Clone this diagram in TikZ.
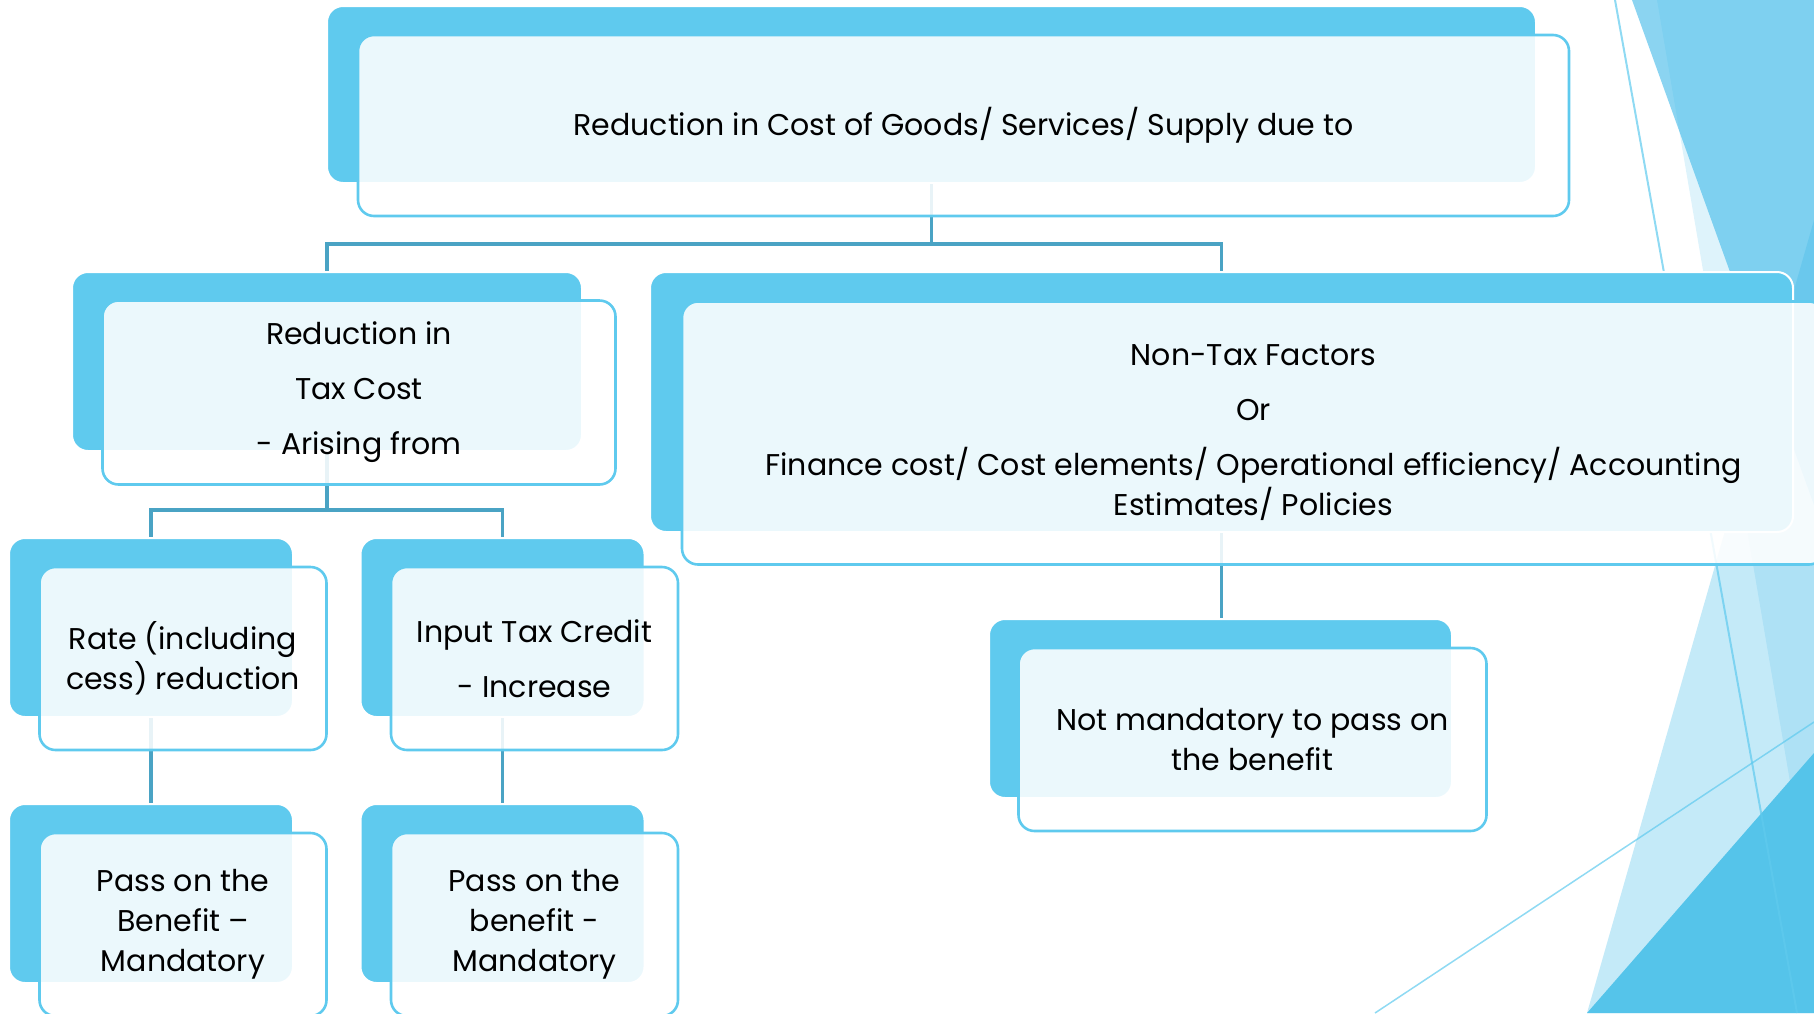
\documentclass[tikz,border=0pt]{standalone}
\usepackage{fontspec}
\setmainfont{Poppins}
\usepackage{tikz}
\usetikzlibrary{positioning, calc}

\definecolor{accent}{HTML}{5FCAEE}
\definecolor{facet}{HTML}{3DB8E8}
\definecolor{darkfacet}{HTML}{55C4EA}
\definecolor{linkblue}{HTML}{4AA3C4}

\begin{document}
\begin{tikzpicture}[
    x=0.5pt, y=-0.5pt,
    back/.style={rectangle, rounded corners=8pt, fill=accent, draw=white, line width=1pt, inner sep=0pt, minimum height=89.5pt},
    front/.style={rectangle, rounded corners=8pt, fill=white, fill opacity=0.88, text opacity=1, draw=accent, line width=1.3pt, inner sep=0pt, minimum height=91.5pt, align=center, font=\fontsize{15}{20}\selectfont},
    link/.style={draw=linkblue, line width=1.7pt},
    facetline/.style={draw=accent, draw opacity=0.7, line width=1pt}
]
    \useasboundingbox (0,0) rectangle (1814,1013);
    \clip (0,0) rectangle (1814,1013);

    % Facets on the right
    \fill[facet, opacity=0.6] (1632,0) -- (1814,0) -- (1814,505) -- cycle;
    \fill[facet, opacity=0.17] (1657,0) -- (1814,0) -- (1814,923) -- cycle;
    \fill[facet, opacity=0.3] (1814,220) -- (1587,1013) -- (1814,1013) -- cycle;
    \fill[darkfacet] (1587,1013) -- (1814,753) -- (1814,1013) -- cycle;
    \draw[facetline] (1615,0) -- (1797,1013);
    \draw[facetline, line width=0.75pt] (1375,1013) -- (1814,722);

    % Back boxes
    \node[back, minimum width=604.5pt, minimum height=88.5pt] (topb) at (931.5,94.5) {};
    \node[back, minimum width=255pt] (taxb) at (327,361.5) {};
    \node[back, minimum width=571.5pt, minimum height=130pt] (nontaxb) at (1221.5,402) {};
    \node[back, minimum width=142pt] (rateb) at (151,627.5) {};
    \node[back, minimum width=142pt] (itcb) at (502.5,627.5) {};
    \node[back, minimum width=142pt] (passab) at (151,893.5) {};
    \node[back, minimum width=142pt] (passbb) at (502.5,893.5) {};
    \node[back, minimum width=231.5pt] (optb) at (1220.5,708.5) {};

    % Links
    \draw[link] (topb.south) -- ++(0,60) -| (taxb.north);
    \draw[link] (topb.south) -- ++(0,60) -| (nontaxb.north);
    \draw[link] (taxb.south) -- ++(0,58) -| (rateb.north);
    \draw[link] (taxb.south) -- ++(0,58) -| (itcb.north);
    \draw[link] (rateb.south) -- (passab.north);
    \draw[link] (itcb.south) -- (passbb.north);
    \draw[link] (nontaxb.south) -- (nontaxb.south |- optb.north);

    % Front boxes
    \node[front, minimum width=605.5pt, minimum height=90.5pt] (top) at ($(topb)+(32,31)$) {Reduction in Cost of Goods/ Services/ Supply due to};
    \node[front, minimum width=256.5pt, minimum height=92pt] (tax) at ($(taxb)+(32,31)$) {Reduction in\\[7.5pt] Tax Cost\\[7.5pt] - Arising from};
    \node[front, minimum width=571.5pt, minimum height=131.5pt] (nontax) at ($(nontaxb)+(32,31)$) {Non-Tax Factors\\[7.5pt] Or\\[7.5pt] Finance cost/ Cost elements/ Operational efficiency/ Accounting\\ Estimates/ Policies};
    \node[front, minimum width=143.5pt] (rate) at ($(rateb)+(32,31)$) {Rate (including\\ cess) reduction};
    \node[front, minimum width=143.5pt] (itc) at ($(itcb)+(32,31)$) {Input Tax Credit\\[7.5pt] - Increase};
    \node[front, minimum width=143.5pt] (passa) at ($(passab)+(32,31)$) {Pass on the\\ Benefit –\\ Mandatory};
    \node[front, minimum width=143.5pt] (passb) at ($(passbb)+(32,31)$) {Pass on the\\ benefit -\\ Mandatory};
    \node[front, minimum width=234pt] (opt) at ($(optb)+(32,31)$) {Not mandatory to pass on\\ the benefit};

\end{tikzpicture}
\end{document}
